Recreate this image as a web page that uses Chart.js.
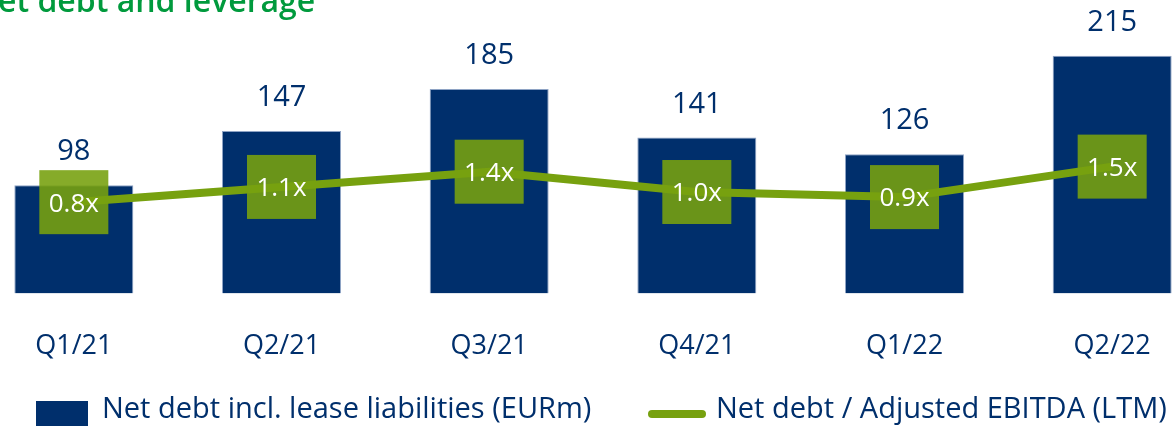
<!DOCTYPE html>
<html>
<head>
<meta charset="utf-8">
<script src="https://cdn.jsdelivr.net/npm/chart.js@4.4.1/dist/chart.umd.min.js"></script>
<style>
  html, body { margin: 0; padding: 0; background: #fff; overflow: hidden; }
  #wrap { position: relative; width: 1174px; height: 426px; overflow: hidden; }
  #chart { position: absolute; left: -30px; top: 0; }
</style>
</head>
<body>
<div id="wrap"><canvas id="chart" width="1246" height="426"></canvas></div>
<script>
const categories = ['Q1/21', 'Q2/21', 'Q3/21', 'Q4/21', 'Q1/22', 'Q2/22'];
const netDebt = [98, 147, 185, 141, 126, 215];
const leverage = [0.8, 1.1, 1.4, 1.0, 0.9, 1.5];
const seriesNames = ['Net debt incl. lease liabilities (EURm)', 'Net debt / Adjusted EBITDA (LTM)'];
const title = 'Net debt and leverage';

const NAVY = '#002f6c';
const LINE_GREEN = '#77a10f';
const BOX_GREEN = 'rgba(119,161,15,0.89)';
const TITLE_GREEN = '#009a3d';
const FONT = '"Open Sans", "Noto Sans", sans-serif';
const SHIFT = 30; // canvas sits 30px left of the page edge

const labelsPlugin = {
  id: 'labels',
  afterDatasetDraw(chart, args) {
    // ratio boxes go between the bars and the line
    if (args.index !== 0) return;
    const ctx = chart.ctx;
    const pts = chart.getDatasetMeta(1).data;
    ctx.save();
    ctx.fillStyle = BOX_GREEN;
    pts.forEach(p => ctx.fillRect(p.x - 34.5, p.y - 32, 69, 64));
    ctx.restore();
  },
  afterDatasetsDraw(chart) {
    const ctx = chart.ctx;
    ctx.save();

    // bar values
    ctx.fillStyle = NAVY;
    ctx.font = '29px ' + FONT;
    ctx.textAlign = 'center';
    ctx.textBaseline = 'alphabetic';
    chart.getDatasetMeta(0).data.forEach((bar, i) => {
      ctx.fillText(String(netDebt[i]), bar.x, bar.y - 25);
    });

    // leverage values
    ctx.fillStyle = '#ffffff';
    ctx.font = '26px ' + FONT;
    ctx.textBaseline = 'middle';
    chart.getDatasetMeta(1).data.forEach((p, i) => {
      ctx.fillText(leverage[i].toFixed(1) + 'x', p.x, p.y + 2);
    });

    // title, partly outside the frame
    ctx.fillStyle = TITLE_GREEN;
    ctx.font = '600 32px ' + FONT;
    ctx.textAlign = 'left';
    ctx.textBaseline = 'alphabetic';
    const wN = ctx.measureText('N').width;
    ctx.fillText(title, SHIFT - wN - 2, 12);

    // legend
    ctx.fillStyle = NAVY;
    ctx.fillRect(SHIFT + 36, 401, 52, 26);
    ctx.strokeStyle = LINE_GREEN;
    ctx.lineWidth = 8;
    ctx.lineCap = 'round';
    ctx.beginPath();
    ctx.moveTo(SHIFT + 652, 414);
    ctx.lineTo(SHIFT + 702, 414);
    ctx.stroke();

    ctx.font = '29px ' + FONT;
    ctx.fillStyle = NAVY;
    ctx.fillText(seriesNames[0], SHIFT + 102, 418);
    ctx.fillText(seriesNames[1], SHIFT + 716, 418);

    ctx.restore();
  }
};

new Chart(document.getElementById('chart'), {
  type: 'bar',
  data: {
    labels: categories,
    datasets: [
      {
        type: 'bar',
        data: netDebt,
        backgroundColor: NAVY,
        borderColor: '#8ea3c4',
        borderWidth: 1,
        barPercentage: 0.573,
        categoryPercentage: 1,
        yAxisID: 'y',
        order: 2
      },
      {
        type: 'line',
        data: leverage,
        borderColor: LINE_GREEN,
        borderWidth: 8,
        pointRadius: 0,
        tension: 0,
        fill: false,
        yAxisID: 'y1',
        order: 1
      }
    ]
  },
  options: {
    responsive: false,
    animation: false,
    layout: { padding: { top: 0, left: 0, right: 0, bottom: 26 } },
    plugins: { legend: { display: false }, tooltip: { enabled: false } },
    scales: {
      x: {
        grid: { display: false, drawTicks: false },
        border: { display: false },
        ticks: { color: NAVY, font: { family: FONT, size: 27 }, padding: 37 }
      },
      y: { display: false, min: 0, max: 265.4 },
      y1: { display: false, min: -1, max: 4.78 }
    }
  },
  plugins: [labelsPlugin]
});
</script>
</body>
</html>
